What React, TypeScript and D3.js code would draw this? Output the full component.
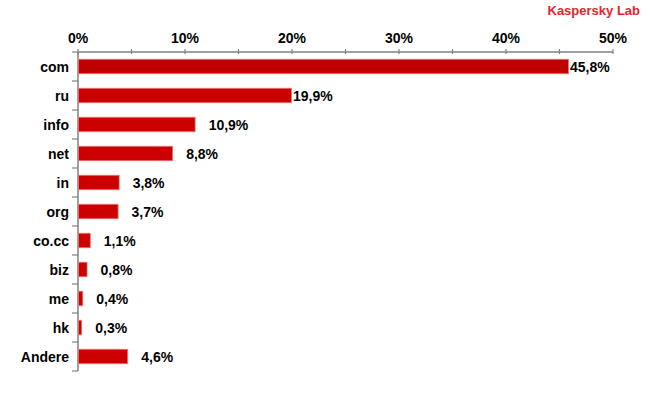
import { useEffect, useRef } from "react";
import * as d3 from "d3";

const CATEGORIES = ["com", "ru", "info", "net", "in", "org", "co.cc", "biz", "me", "hk", "Andere"];
const SHARES = [45.8, 19.9, 10.9, 8.8, 3.8, 3.7, 1.1, 0.8, 0.4, 0.3, 4.6];
const TICKS = [0, 10, 20, 30, 40, 50];
const MINOR_TICKS = [5, 15, 25, 35, 45];

const fmt = (v: number) => v.toFixed(1).replace(".", ",") + "%";

export default function App() {
  const ref = useRef<SVGSVGElement>(null);

  useEffect(() => {
    const el = ref.current;
    if (!el) return;
    const W = 650;
    const M = { top: 52, left: 78, right: 37 };
    const svg = d3.select(el);
    svg.selectAll("*").remove();

    const x = d3.scaleLinear().domain([0, 50]).range([M.left, W - M.right]);
    const y = d3.scaleBand<string>().domain(CATEGORIES).range([M.top, M.top + 29 * CATEGORIES.length]).paddingInner(0.5).paddingOuter(0.25);
    const step = y.step();
    const axisColor = "#808080";
    const font = "Arial, 'Liberation Sans', sans-serif";

    svg.append("text").attr("x", 640).attr("y", 15).attr("text-anchor", "end")
      .attr("fill", "#E8242C").attr("font-size", 13).attr("font-weight", "bold").attr("font-family", font)
      .text("Kaspersky Lab");

    // top axis
    svg.append("line").attr("x1", x(0)).attr("x2", x(50)).attr("y1", M.top).attr("y2", M.top)
      .attr("stroke", axisColor).attr("stroke-width", 1.5);
    svg.selectAll("line.tick").data([...TICKS, ...MINOR_TICKS]).join("line")
      .attr("x1", (d) => x(d)).attr("x2", (d) => x(d)).attr("y1", M.top - 3).attr("y2", M.top + 2)
      .attr("stroke", axisColor).attr("stroke-width", 1.2);
    svg.selectAll("text.tick").data(TICKS).join("text")
      .attr("x", (d) => x(d)).attr("y", M.top - 9).attr("text-anchor", "middle")
      .attr("font-size", 14).attr("font-weight", "bold").attr("font-family", font).attr("fill", "#000")
      .text((d) => d + "%");

    // left axis
    const y0 = M.top, y1 = M.top + step * CATEGORIES.length;
    svg.append("line").attr("x1", x(0)).attr("x2", x(0)).attr("y1", y0).attr("y2", y1)
      .attr("stroke", axisColor).attr("stroke-width", 1.5);
    svg.selectAll("line.ytick").data(d3.range(CATEGORIES.length + 1)).join("line")
      .attr("x1", x(0) - 6).attr("x2", x(0)).attr("y1", (i) => y0 + i * step).attr("y2", (i) => y0 + i * step)
      .attr("stroke", axisColor).attr("stroke-width", 1.2);

    svg.selectAll("text.cat").data(CATEGORIES).join("text")
      .attr("x", x(0) - 9).attr("y", (d) => (y(d) ?? 0) + y.bandwidth() / 2 + 5).attr("text-anchor", "end")
      .attr("font-size", 14).attr("font-weight", "bold").attr("font-family", font).attr("fill", "#000")
      .text((d) => d);

    const data = CATEGORIES.map((c, i) => ({ c, v: SHARES[i], i }));
    svg.selectAll("rect.bar").data(data).join("rect")
      .attr("x", x(0) + 0.5).attr("y", (d) => y(d.c) ?? 0).attr("height", y.bandwidth())
      .attr("width", (d) => x(d.v) - x(0))
      .attr("fill", (d) => (d.i === 0 ? "#C00000" : "#CC0000"))
      .attr("stroke", "#E87878").attr("stroke-width", 0.8);

    svg.selectAll("text.val").data(data).join("text")
      .attr("x", (d) => x(d.v) + (d.v >= 15 ? 2 : 14)).attr("y", (d) => (y(d.c) ?? 0) + y.bandwidth() / 2 + 5)
      .attr("font-size", 14).attr("font-weight", "bold").attr("font-family", font).attr("fill", "#000")
      .text((d) => fmt(d.v));
  }, []);

  return <svg ref={ref} width={650} height={400} style={{ position: "absolute", left: 0, top: 0 }} />;
}
